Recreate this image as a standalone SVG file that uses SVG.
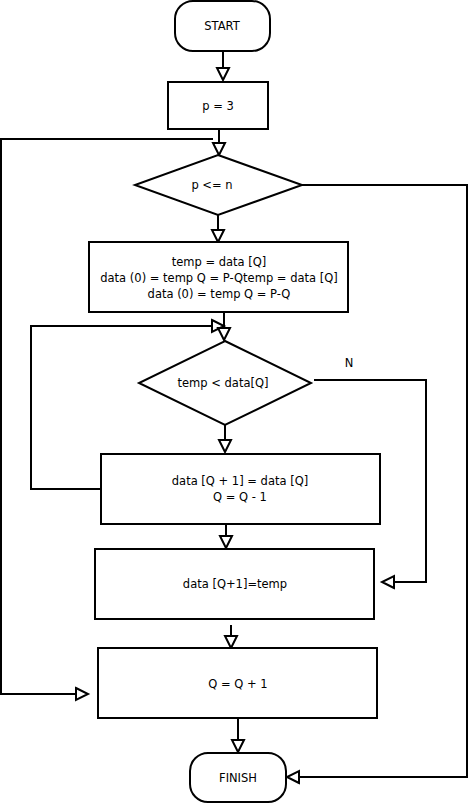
<svg xmlns="http://www.w3.org/2000/svg" width="470" height="805" viewBox="0 0 470 805">
<style>
.n{fill:#fff;stroke:#000;stroke-width:2}
.c{fill:none;stroke:#000;stroke-width:2}
text{font-family:"DejaVu Sans",Verdana,sans-serif;font-size:11.5px;fill:#000;text-anchor:middle;dominant-baseline:central}
</style>
<defs>
<marker id="a" markerUnits="userSpaceOnUse" markerWidth="16" markerHeight="16" refX="12" refY="6" orient="auto" overflow="visible">
<path d="M0,0 L12,6 L0,12 Z" fill="#fff" stroke="#000" stroke-width="2"/>
</marker>
</defs>
<rect width="470" height="805" fill="#fff"/>
<g id="connectors">
<path class="c" d="M223,51 V80" marker-end="url(#a)"/>
<path class="c" d="M219,129 V155" marker-end="url(#a)"/>
<path class="c" d="M213,139 H1 V694 H88" marker-end="url(#a)"/>
<path class="c" d="M302,185 H467 V777 H287" marker-end="url(#a)"/>
<path class="c" d="M218,215 V242" marker-end="url(#a)"/>
<path class="c" d="M101,489 H31 V326 H224" marker-end="url(#a)"/>
<path class="c" d="M224,312 V340" marker-end="url(#a)"/>
<path class="c" d="M314,380 H426 V582 H382" marker-end="url(#a)"/>
<path class="c" d="M225,425 V452" marker-end="url(#a)"/>
<path class="c" d="M226,524 V548" marker-end="url(#a)"/>
<path class="c" d="M231,625 V648" marker-end="url(#a)"/>
<path class="c" d="M238,718 V752" marker-end="url(#a)"/>
<text x="349" y="363">N</text>
</g>
<g id="start">
<rect class="n" x="175" y="1" width="95" height="50" rx="18"/>
<text x="222" y="26">START</text>
</g>
<g id="p3">
<rect class="n" x="168" y="82" width="100" height="47"/>
<text x="218" y="106">p = 3</text>
</g>
<g id="cond1">
<polygon class="n" points="218,155 302,185 218,215 135,185"/>
<text x="212" y="185">p &lt;= n</text>
</g>
<g id="init">
<rect class="n" x="89" y="242" width="259" height="70"/>
<text x="219" y="262">temp = data [Q]</text>
<text x="219" y="278">data (0) = temp Q = P-Qtemp = data [Q]</text>
<text x="219" y="294">data (0) = temp Q = P-Q</text>
</g>
<g id="cond2">
<polygon class="n" points="225,341 311,383 225,425 139,383"/>
<text x="223" y="383">temp &lt; data[Q]</text>
</g>
<g id="shift">
<rect class="n" x="101" y="454" width="279" height="70"/>
<text x="240" y="481">data [Q + 1] = data [Q]</text>
<text x="240" y="497">Q = Q - 1</text>
</g>
<g id="assign">
<rect class="n" x="95" y="549" width="279" height="70"/>
<text x="235" y="584">data [Q+1]=temp</text>
</g>
<g id="inc">
<rect class="n" x="98" y="648" width="279" height="70"/>
<text x="238" y="684">Q = Q + 1</text>
</g>
<g id="finish">
<rect class="n" x="190" y="753" width="96" height="49" rx="18"/>
<text x="238" y="778">FINISH</text>
</g>
</svg>
